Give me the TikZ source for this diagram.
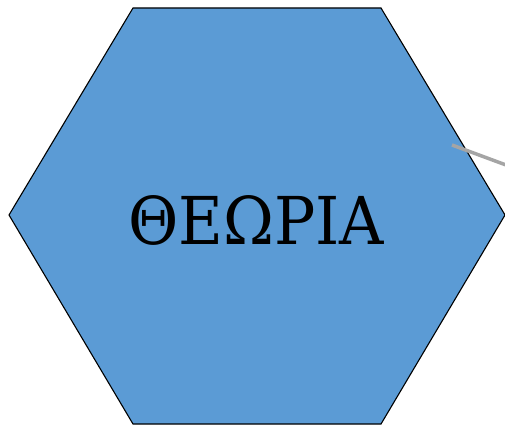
\documentclass[tikz,border=0pt]{standalone}
\usepackage{fontspec}
\setmainfont{DejaVu Serif}
\newfontfamily\hexfont[FakeStretch=0.93]{DejaVu Serif}
\usetikzlibrary{calc,positioning}
\definecolor{hexblue}{HTML}{5B9BD5}
\definecolor{linkgray}{HTML}{A5A5A5}
\tikzset{
  hexa/.style={draw=black, fill=hexblue, line width=1.1pt, line join=miter},
  link/.style={draw=linkgray, line width=3.5pt},
  title/.style={font=\hexfont\fontsize{66}{70}\selectfont, inner sep=0pt}
}
\begin{document}
\begin{tikzpicture}[x=1pt,y=-1pt]
  \useasboundingbox (0,0) rectangle (505,427);
  \draw[hexa] (9,215) -- (133,8) -- (381,8) -- (505,215) -- (381,424) -- (133,424) -- cycle;
  \node[title, anchor=base] (theory) at (256,244) {ΘΕΩΡΙΑ};
  \coordinate (linkstart) at (452,145);
  \coordinate (linkend) at (533,175);
  \draw[link] (linkstart) -- (linkend);
\end{tikzpicture}
\end{document}
